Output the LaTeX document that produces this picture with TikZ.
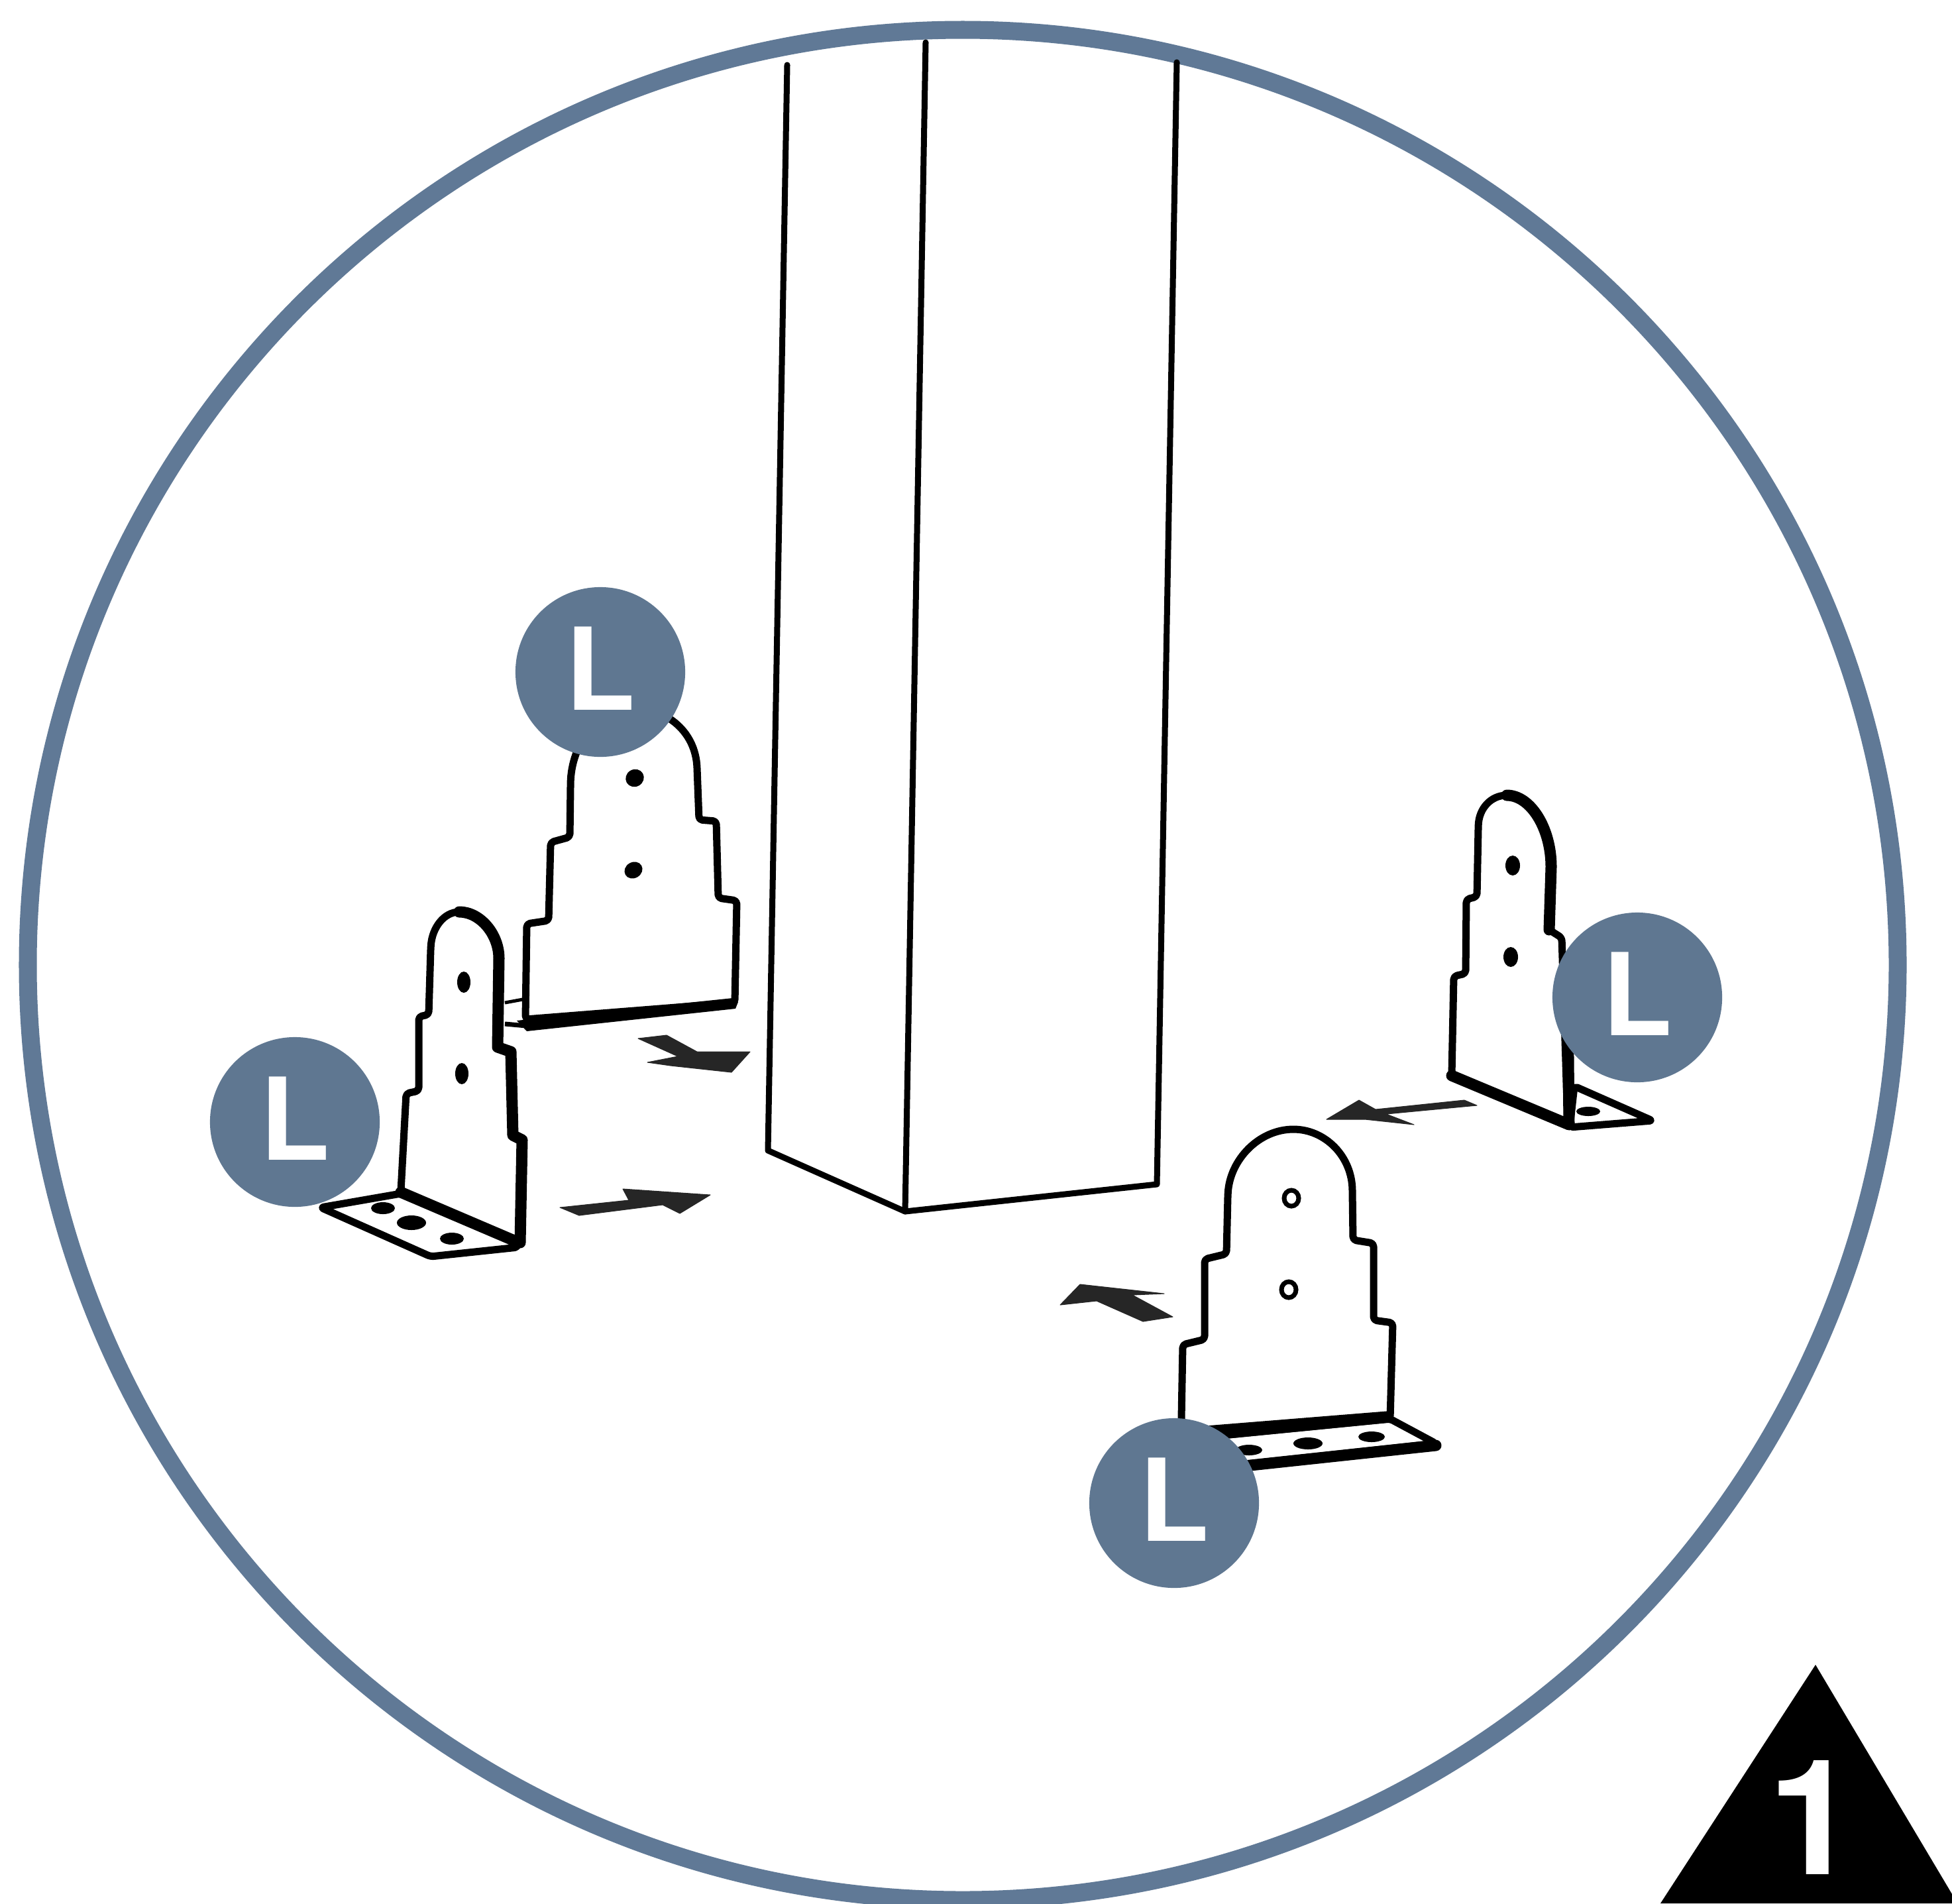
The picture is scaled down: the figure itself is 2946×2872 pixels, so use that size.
\documentclass[tikz,border=0pt]{standalone}
\usepackage{fontspec}
\setmainfont{TeX Gyre Heros}
\usepackage{xcolor}
\definecolor{ringblue}{RGB}{96, 121, 150}
\definecolor{badgeblue}{RGB}{95, 119, 145}
\tikzset{
  postline/.style={line width=0.09cm, line cap=round, line join=round},
  plate/.style={draw=black, fill=white, line width=0.11cm, line join=round, rounded corners=0.05cm},
  heavy/.style={line width=0.17cm, line cap=round, line join=round},
  hole/.style={fill=black},
  pointer/.style={fill=black!85, draw=black!85, line width=0.01cm, line join=round},
  badge/.style={circle, fill=badgeblue, text=white, minimum size=2.56cm, inner sep=0pt,
    text depth=0.1cm, font=\fontsize{49}{49}\selectfont\bfseries}
}

\begin{document}
\begin{tikzpicture}[x=0.01cm, y=-0.01cm]
  \useasboundingbox (0,0) rectangle (2946,2872);

  % --- Ring ---
  \draw[ringblue, line width=0.27cm] (1453,1456) circle (1411);

  % --- Post ---
  \draw[postline] (1188,98) -- (1159,1736) -- (1366,1828) -- (1746,1787) -- (1776,94);
  \draw[postline] (1397,64) -- (1366,1828);

  % --- Back left bracket ---
  \begin{scope}
    \draw[line width=0.05cm] (762,1513) -- (789,1508);
    \draw[line width=0.07cm] (762,1545) -- (795,1548);
    \draw[plate] (793,1538) -- (795,1394) -- (828,1389) -- (831,1271) -- (860,1263)
      -- (861,1187) [sharp corners] .. controls (862,1120) and (905,1070) .. (950,1068)
      .. controls (1000,1066) and (1050,1100) .. (1052,1159) [rounded corners=0.05cm]
      -- (1055,1237) -- (1081,1239) -- (1084,1355) -- (1112,1359) -- (1109,1513) -- cycle;
    \fill (780,1540) -- (1106,1506) -- (1114,1512) -- (1110,1522) -- (795,1556) -- cycle;
    \fill[hole, rotate around={30:(958,1174)}] (958,1174) ellipse (14 and 13);
    \fill[hole, rotate around={30:(956,1313)}] (956,1313) ellipse (14 and 12);
  \end{scope}

  % --- Front left bracket ---
  \begin{scope}
    \draw[plate] (605,1801) -- (484,1822) -- (650,1896) -- (782,1882) -- (776,1868) -- cycle;
    \draw[plate] (605,1797) -- (613,1650) -- (632,1646) -- (632,1534) -- (647,1531)
      -- (650,1432) [sharp corners] .. controls (652,1400) and (670,1376) .. (693,1376)
      .. controls (725,1376) and (753,1410) .. (753,1446) [rounded corners=0.05cm]
      -- (751,1580) -- (771,1587) -- (774,1713) -- (788,1720) -- (785,1875) -- cycle;
    \draw[heavy] (693,1376) .. controls (725,1376) and (753,1410) .. (753,1446)
      -- (751,1580) -- (771,1587) -- (774,1713) -- (788,1720) -- (785,1875);
    \draw[heavy] (605,1799) -- (776,1872);
    \fill[hole] (700,1482) ellipse (10 and 16);
    \fill[hole] (697,1620) ellipse (10 and 16);
    \fill[hole] (578,1823) ellipse (18 and 9);
    \fill[hole] (621,1845) ellipse (22 and 11);
    \fill[hole] (682,1869) ellipse (18 and 9);
  \end{scope}

  % --- Back right bracket ---
  \begin{scope}
    \draw[plate] (2376,1639) -- (2494,1691) -- (2369,1701) -- cycle;
    \draw[plate] (2191,1621) -- (2194,1473) -- (2212,1469) -- (2213,1357) -- (2229,1353)
      -- (2231,1250) [sharp corners] .. controls (2232,1220) and (2250,1200) .. (2274,1200)
      .. controls (2310,1200) and (2341,1250) .. (2341,1308) [rounded corners=0.05cm]
      -- (2338,1403) -- (2357,1415) -- (2366,1697) -- cycle;
    \draw[heavy] (2274,1200) .. controls (2310,1200) and (2341,1250) .. (2341,1308) -- (2338,1403);
    \draw[heavy] (2366,1500) -- (2368,1697) -- (2191,1623);
    \fill[hole] (2283,1306) ellipse (11 and 15);
    \fill[hole] (2280,1444) ellipse (11 and 15);
    \fill[hole] (2397,1677) ellipse (18 and 7);
  \end{scope}

  % --- Front right bracket ---
  \begin{scope}
    \draw[plate] (1783,2172) -- (2098,2141) -- (2167,2178) -- (1800,2218) -- cycle;
    \draw[plate] (1783,2141) -- (1785,2029) -- (1818,2021) -- (1818,1900) -- (1851,1892)
      -- (1853,1805) [sharp corners] .. controls (1856,1750) and (1900,1704) .. (1952,1704)
      .. controls (2000,1704) and (2041,1745) .. (2041,1797) [rounded corners=0.05cm]
      -- (2042,1871) -- (2073,1876) -- (2073,1992) -- (2102,1996) -- (2098,2141) -- (1783,2172) -- cycle;
    \fill (1800,2153) -- (2098,2129) -- (2098,2143) -- (1800,2170) -- cycle;
    \draw[heavy] (1850,2215) -- (2167,2181);
    \draw[hole, fill=white, line width=0.07cm] (1949,1808) ellipse (11 and 12);
    \draw[hole, fill=white, line width=0.07cm] (1945,1946) ellipse (11 and 12);
    \fill[hole] (1885,2188) ellipse (20 and 8);
    \fill[hole] (1974,2178) ellipse (22 and 9);
    \fill[hole] (2070,2168) ellipse (20 and 8);
  \end{scope}

  % --- Arrows ---
  \fill[pointer] (963,1567) -- (1006,1562) -- (1052,1587) -- (1132,1587) -- (1104,1618) -- (1012,1608) -- (977,1603) -- (1023,1594) -- cycle;
  \fill[pointer] (845,1822) -- (949,1811) -- (940,1794) -- (1072,1803) -- (1026,1831) -- (1000,1818) -- (874,1834) -- cycle;
  \fill[pointer] (2002,1689) -- (2051,1660) -- (2076,1674) -- (2210,1660) -- (2229,1668) -- (2092,1681) -- (2134,1697) -- (2060,1689) -- cycle;
  \fill[pointer] (1600,1969) -- (1630,1938) -- (1757,1952) -- (1709,1954) -- (1770,1987) -- (1725,1994) -- (1655,1963) -- cycle;

  % --- Badges ---
  \node[badge] (badgeBackLeft) at (906,1014) {L};
  \node[badge] (badgeFrontLeft) at (445,1693) {L};
  \node[badge] (badgeBackRight) at (2471,1505) {L};
  \node[badge] (badgeFrontRight) at (1772,2268) {L};

  % --- Step number ---
  \fill (2740,2512) -- (2506,2872) -- (2946,2872) -- (2946,2858) -- cycle;
  \node[text=white, font=\fontsize{69}{69}\selectfont\bfseries, inner sep=0pt] (stepNumber) at (2736,2742) {1};
\end{tikzpicture}
\end{document}
